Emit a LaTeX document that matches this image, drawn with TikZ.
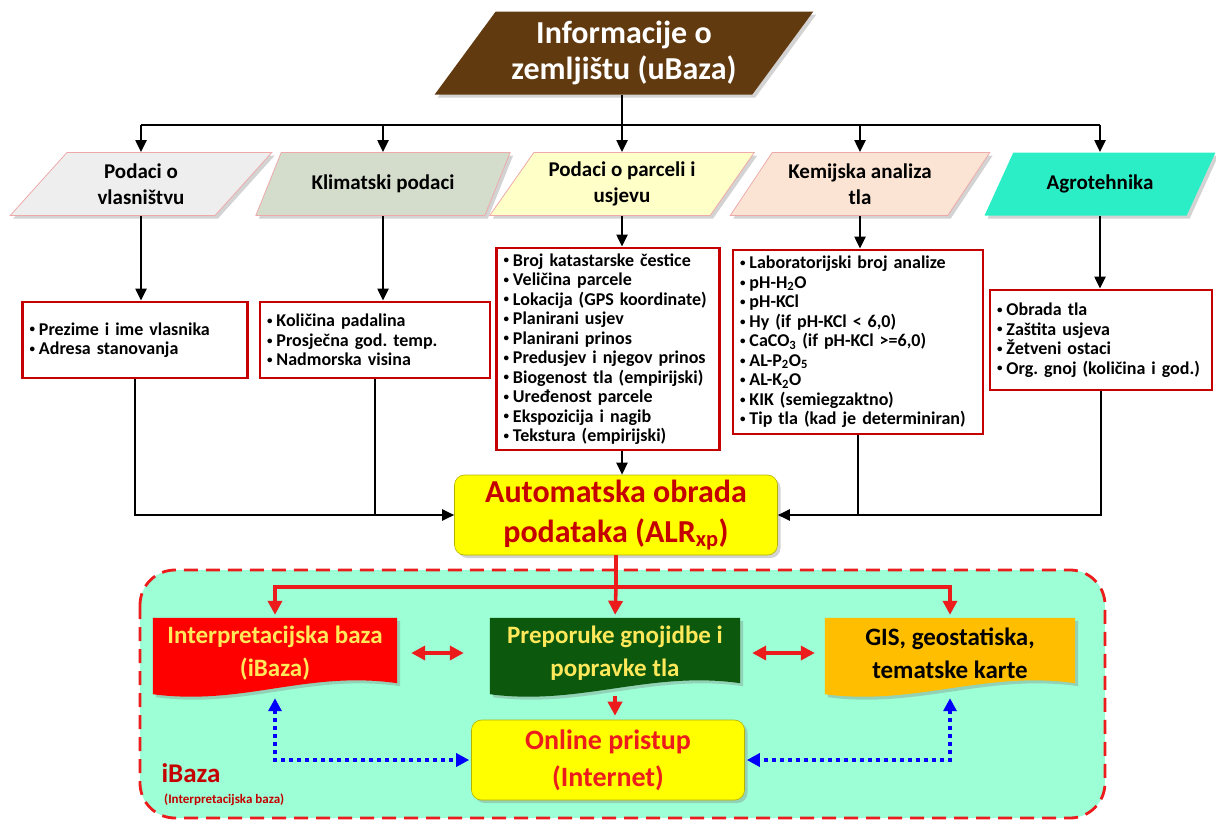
\documentclass[tikz,border=0pt]{standalone}
\usepackage{fontspec}
\setmainfont{Carlito}
\usetikzlibrary{positioning,arrows.meta,shapes.geometric,shadows,calc,backgrounds}

\definecolor{smeda}{RGB}{98,58,16}
\definecolor{sivaP}{RGB}{238,238,238}
\definecolor{klimaP}{RGB}{212,220,204}
\definecolor{zutaP}{RGB}{255,255,200}
\definecolor{breskva}{RGB}{252,228,212}
\definecolor{tirkiz}{RGB}{44,238,198}
\definecolor{rubroza}{RGB}{238,170,170}
\definecolor{tcrvena}{RGB}{196,0,0}
\definecolor{crvena}{RGB}{236,28,28}
\definecolor{zuta}{RGB}{255,255,0}
\definecolor{zutitekst}{RGB}{255,232,90}
\definecolor{tzelena}{RGB}{12,88,12}
\definecolor{narancasta}{RGB}{255,190,0}
\definecolor{akva}{RGB}{156,255,214}
\definecolor{plava}{RGB}{0,0,250}

% mala tocka ispred stavke
\newcommand{\stavka}{\raisebox{0.25ex}{\fontsize{11}{11}\selectfont\textbullet}\hspace{4pt}}

% dokument s valovitim dnom
\newcommand{\dokoblik}[2]{%
  \fill[#2, drop shadow={opacity=0.35, shadow xshift=3pt, shadow yshift=-3pt}]
    (#1.north west) -- (#1.north east) -- ([yshift=5pt]#1.south east)
    .. controls ([xshift=-90pt,yshift=18pt]#1.south east) and ([xshift=90pt,yshift=-18pt]#1.south west)
    .. ([yshift=-6pt]#1.south west) -- cycle;}

\frenchspacing

\begin{document}
\begin{tikzpicture}[
    x=1pt, y=-1pt,
    sjena/.style={drop shadow={opacity=0.35, shadow xshift=3pt, shadow yshift=-3pt}},
    paral/.style={trapezium, trapezium left angle=53, trapezium right angle=127, trapezium stretches=true, minimum height=63pt, draw=rubroza, line width=0.8pt, align=center, font=\fontsize{21}{26}\selectfont\bfseries, sjena},
    popis/.style={draw=tcrvena, line width=2.8pt, fill=white, align=left, inner xsep=7pt, font=\fontsize{18}{19.5}\selectfont\bfseries},
    zutobox/.style={draw=zuta!70!black, line width=0.6pt, rounded corners=10pt, fill=zuta, align=center, sjena},
    dok/.style={minimum height=70pt, align=center, font=\fontsize{25}{33}\selectfont\bfseries},
    crta/.style={line width=2.2pt},
    strelica/.style={line width=2.2pt, -{Triangle[length=12pt,width=11pt]}},
    crvenacrta/.style={line width=3.6pt, crvena},
    crvenastrelica/.style={line width=3.6pt, crvena, -{Triangle[length=14pt,width=14pt]}},
    dvostruka/.style={line width=3.6pt, crvena, {Triangle[length=14pt,width=14pt]}-{Triangle[length=14pt,width=14pt]}},
    plavastrelica/.style={line width=4pt, plava, dash pattern=on 4pt off 4pt, {Triangle[length=13pt,width=13pt]}-{Triangle[length=13pt,width=13pt]}}
]
\useasboundingbox (0,0) rectangle (1216,820);

% podrucje iBaze
\begin{scope}[on background layer]
\draw[crvena, line width=2.8pt, dash pattern=on 14pt off 8pt, fill=akva, rounded corners=35pt] (140,570) rectangle (1105,818);
\end{scope}

% vrh
\node[trapezium, trapezium left angle=52, trapezium right angle=128, trapezium stretches=true, minimum width=380pt, minimum height=83pt, fill=smeda, text=white, align=center, font=\fontsize{32}{36}\selectfont\bfseries, sjena] (info) at (624,53) {Informacije o\\zemljištu (uBaza)};

% drugi red
\node[paral, fill=sivaP, minimum width=262pt] (vlas) at (141,184) {Podaci o\\vlasništvu};
\node[paral, fill=klimaP, minimum width=255pt] (klima) at (383,184) {Klimatski podaci};
\node[paral, fill=zutaP, minimum width=265pt] (parcela) at (622,184) {Podaci o parceli i\\usjevu};
\node[paral, fill=breskva, minimum width=260pt] (kemija) at (860,184) {Kemijska analiza\\tla};
\node[paral, fill=tirkiz, draw=none, minimum width=231pt] (agro) at (1100,184) {Agrotehnika};

% popisi podataka
\node[popis, text width=211pt, minimum height=76pt] (vlasBox) at (135,340) {\stavka Prezime i ime vlasnika\\\stavka Adresa stanovanja};
\node[popis, text width=216pt, minimum height=76pt] (klimaBox) at (375,340) {\stavka Količina padalina\\\stavka Prosječna god. temp.\\\stavka Nadmorska visina};
\node[popis, text width=209pt, minimum height=202pt] (parcelaBox) at (608,349) {\stavka Broj katastarske čestice\\\stavka Veličina parcele\\\stavka Lokacija (GPS koordinate)\\\stavka Planirani usjev\\\stavka Planirani prinos\\\stavka Predusjev i njegov prinos\\\stavka Biogenost tla (empirijski)\\\stavka Uređenost parcele\\\stavka Ekspozicija i nagib\\\stavka Tekstura (empirijski)};
\node[popis, text width=236pt, minimum height=184pt] (kemijaBox) at (858,342) {\stavka Laboratorijski broj analize\\\stavka pH-H\textsubscript{2}O\\\stavka pH-KCl\\\stavka Hy (if pH-KCl < 6,0)\\\stavka CaCO\textsubscript{3} (if pH-KCl >=6,0)\\\stavka AL-P\textsubscript{2}O\textsubscript{5}\\\stavka AL-K\textsubscript{2}O\\\stavka KIK (semiegzaktno)\\\stavka Tip tla (kad je determiniran)};
\node[popis, text width=208pt, minimum height=100pt] (agroBox) at (1101,340) {\stavka Obrada tla\\\stavka Zaštita usjeva\\\stavka Žetveni ostaci\\\stavka Org. gnoj (količina i god.)};

% obrada
\node[zutobox, minimum width=323pt, minimum height=80pt, text=tcrvena, font=\fontsize{32}{40}\selectfont\bfseries] (alr) at (616,515) {Automatska obrada\\podataka (ALR\textsubscript{xp})};

% donji dio
\node[dok, minimum width=244pt, text=zutitekst] (interp) at (275,653) {Interpretacijska baza\\(iBaza)};
\node[dok, minimum width=250pt, text=zutitekst] (prep) at (615,653) {Preporuke gnojidbe i\\popravke tla};
\node[dok, minimum width=250pt] (gis) at (950,653) {GIS, geostatiska,\\tematske karte};
\node[zutobox, minimum width=273pt, minimum height=80pt, text=crvena, font=\fontsize{28}{37}\selectfont\bfseries] (online) at (608,760) {Online pristup\\(Internet)};

\node[anchor=west, text=tcrvena, font=\fontsize{27}{30}\selectfont\bfseries] (ibazaNaslov) at (158,773) {iBaza};
\node[anchor=west, text=tcrvena, font=\fontsize{13}{15}\selectfont\bfseries, inner sep=1pt] (ibazaOpis) at (163,800) {(Interpretacijska baza)};

\begin{scope}[on background layer]
\dokoblik{interp}{red}
\dokoblik{prep}{tzelena}
\dokoblik{gis}{narancasta}
\end{scope}

% veze gore
\coordinate (sabirnica) at (622,125);
\draw[crta] (sabirnica |- info.south) -- (sabirnica);
\draw[crta] (vlas.north |- sabirnica) -- (agro.north |- sabirnica);
\foreach \n in {vlas,klima,parcela,kemija,agro}
  \draw[strelica] (\n.north |- sabirnica) -- (\n.north);
\foreach \n in {vlas,klima,parcela,kemija,agro}
  \draw[strelica] (\n.south) -- (\n.south |- \n Box.north);

% prema obradi
\draw[strelica] (vlasBox.south) |- (alr.west);
\draw[crta] (klimaBox.south) -- (klimaBox.south |- alr.west);
\draw[strelica] (parcela.south |- parcelaBox.south) -- (parcela.south |- alr.north);
\draw[crta] (kemijaBox.south) -- (kemijaBox.south |- alr.east);
\draw[strelica] (agroBox.south) |- (alr.east);

% crvene veze
\coordinate (grana) at (616,587);
\draw[crvenacrta] (alr.south) -- (grana);
\draw[crvenastrelica, shorten >=3pt] (grana) -| (interp.north);
\draw[crvenastrelica, shorten >=3pt] (grana) -| (gis.north);
\draw[crvenastrelica, shorten >=3pt] (grana) -- (prep.north);
\draw[dvostruka, shorten <=14pt, shorten >=26pt] (interp.east) -- (prep.west);
\draw[dvostruka, shorten <=12pt, shorten >=10pt] (prep.east) -- (gis.west);
\draw[crvenastrelica, shorten <=8pt, shorten >=4pt] (prep.south) -- (prep.south |- online.north);

% plave veze
\draw[plavastrelica, shorten <=10pt, shorten >=2pt] (interp.south) |- (online.west);
\draw[plavastrelica, shorten <=10pt, shorten >=2pt] (gis.south) |- (online.east);

\end{tikzpicture}
\end{document}
